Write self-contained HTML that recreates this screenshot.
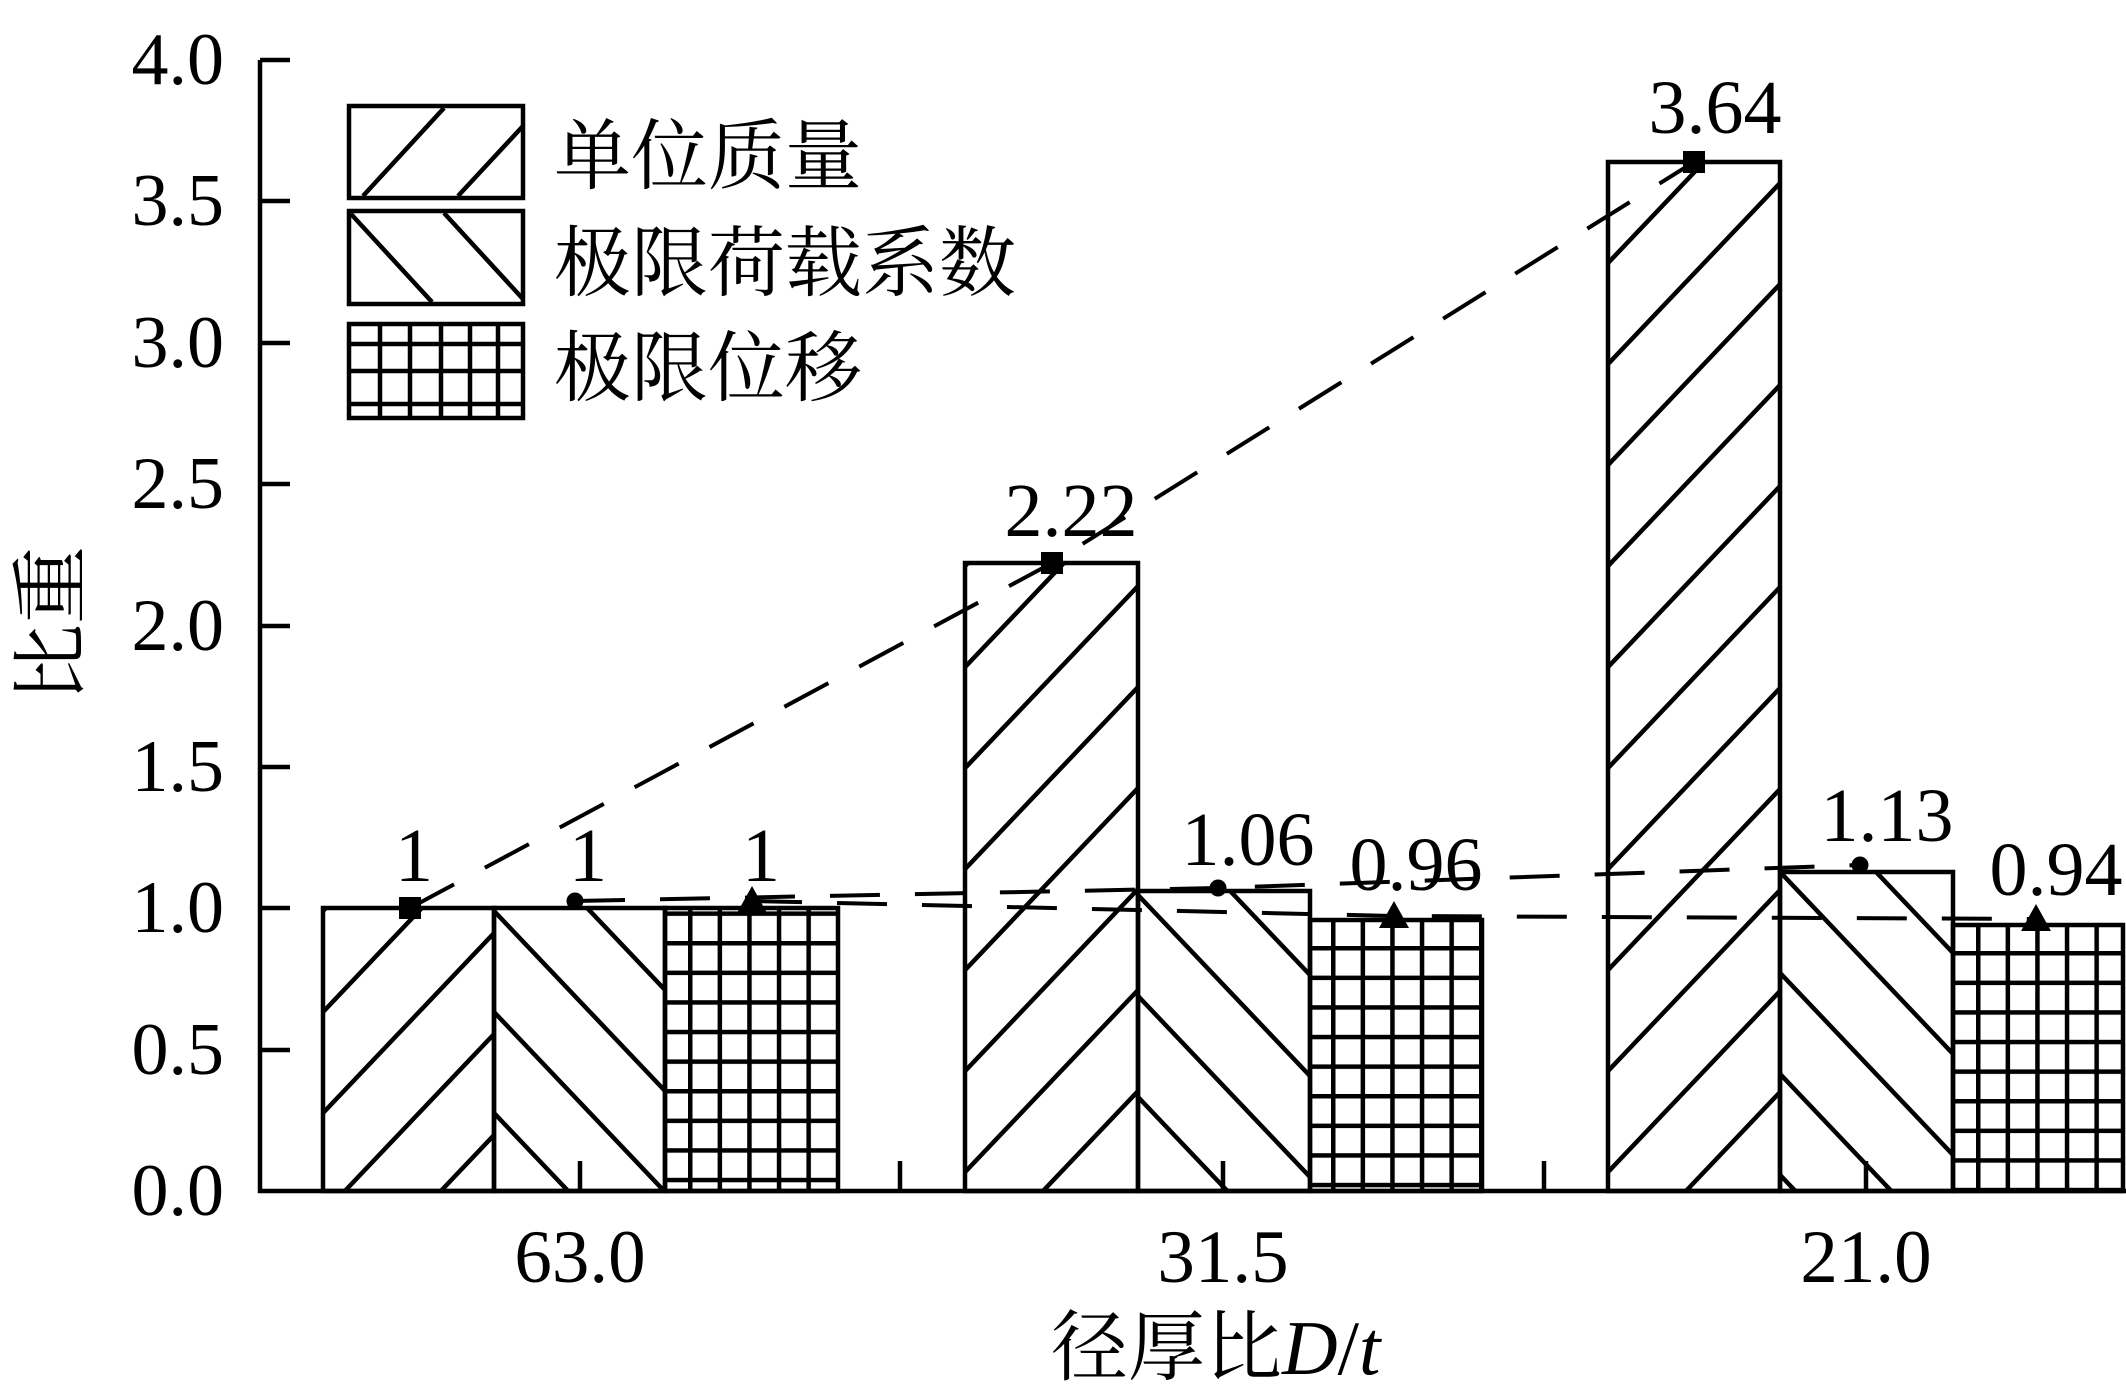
<!DOCTYPE html>
<html><head><meta charset="utf-8"><style>
html,body{margin:0;padding:0;background:#fff;}
svg{display:block;}
text{font-family:"Liberation Serif","Noto Serif CJK SC",serif;fill:#000;}
</style></head><body>
<svg width="2126" height="1399" viewBox="0 0 2126 1399" xmlns="http://www.w3.org/2000/svg">
<defs>
<g id="fs"><path d="M-96,101L96,-101M0,101L96,0M0,202L192,0" stroke="#000" stroke-width="4.5" fill="none"/></g>
<g id="bs"><path d="M0,-101L192,101M0,0L96,101M-96,0L96,202" stroke="#000" stroke-width="4.5" fill="none"/></g>
<g id="gt"><rect x="0" y="0" width="4.5" height="29.6" fill="#000"/><rect x="0" y="0" width="29.6" height="4.5" fill="#000"/></g>
<pattern id="m1" patternUnits="userSpaceOnUse" width="96" height="101" x="323" y="911"><use href="#fs"/></pattern>
<pattern id="m2" patternUnits="userSpaceOnUse" width="96" height="101" x="967" y="564"><use href="#fs"/></pattern>
<pattern id="m3" patternUnits="userSpaceOnUse" width="96" height="101" x="1609" y="666"><use href="#fs"/></pattern>
<pattern id="l1" patternUnits="userSpaceOnUse" width="96" height="101" x="494" y="911"><use href="#bs"/></pattern>
<pattern id="l2" patternUnits="userSpaceOnUse" width="96" height="101" x="1138" y="895"><use href="#bs"/></pattern>
<pattern id="l3" patternUnits="userSpaceOnUse" width="96" height="101" x="1782" y="874"><use href="#bs"/></pattern>
<pattern id="g1" patternUnits="userSpaceOnUse" width="29.6" height="29.6" x="688" y="941"><use href="#gt"/></pattern>
<pattern id="g2" patternUnits="userSpaceOnUse" width="29.6" height="29.6" x="1331" y="946"><use href="#gt"/></pattern>
<pattern id="g3" patternUnits="userSpaceOnUse" width="29.6" height="29.6" x="1976" y="951"><use href="#gt"/></pattern>
</defs>

<g stroke="#000" stroke-width="4.5">
<rect x="323" y="908" width="171" height="283" fill="url(#m1)"/>
<rect x="494" y="908" width="171" height="283" fill="url(#l1)"/>
<rect x="665" y="908" width="173" height="283" fill="url(#g1)"/>
<rect x="965" y="563" width="173" height="628" fill="url(#m2)"/>
<rect x="1138" y="891" width="172" height="300" fill="url(#l2)"/>
<rect x="1310" y="920" width="172" height="271" fill="url(#g2)"/>
<rect x="1608" y="162" width="172" height="1029" fill="url(#m3)"/>
<rect x="1780" y="872" width="173" height="319" fill="url(#l3)"/>
<rect x="1953" y="925" width="170" height="266" fill="url(#g3)"/>
</g>

<g stroke="#000" stroke-width="4.5" fill="none">
<path d="M260,60V1191H2126"/>
<path d="M260,60H290M260,201H290M260,343H290M260,484H290M260,626H290M260,767H290M260,908H290M260,1050H290"/>
<path d="M580,1191V1161M900,1191V1161M1223,1191V1161M1544,1191V1161M1866,1191V1161"/>
</g>

<g stroke="#000" stroke-width="4" fill="none" stroke-dasharray="50 35">
<polyline points="410,908 1052,563 1694,162"/>
<polyline points="575,901 1218,888 1860,865"/>
<polyline points="752,901 1394,916 2036,919"/>
</g>

<g fill="#000">
<rect x="399" y="897" width="22" height="22"/>
<rect x="1041" y="552" width="22" height="22"/>
<rect x="1683" y="151" width="22" height="22"/>
<circle cx="575" cy="901" r="8.5"/>
<circle cx="1218" cy="888" r="8.5"/>
<circle cx="1860" cy="865" r="8.5"/>
<polygon points="752,886 767,913 737,913"/>
<polygon points="1394,901 1409,928 1379,928"/>
<polygon points="2036,904 2051,931 2021,931"/>
</g>

<g font-size="74" text-anchor="end">
<text x="224" y="84">4.0</text>
<text x="224" y="225">3.5</text>
<text x="224" y="367">3.0</text>
<text x="224" y="508">2.5</text>
<text x="224" y="650">2.0</text>
<text x="224" y="791">1.5</text>
<text x="224" y="932">1.0</text>
<text x="224" y="1074">0.5</text>
<text x="224" y="1215">0.0</text>
</g>

<g font-size="75" text-anchor="middle">
<text x="580" y="1282">63.0</text>
<text x="1223" y="1282">31.5</text>
<text x="1866" y="1282">21.0</text>
</g>

<g font-size="76" text-anchor="middle">
<text x="414" y="881">1</text>
<text x="588" y="881">1</text>
<text x="761" y="881">1</text>
<text x="1071" y="536">2.22</text>
<text x="1715" y="133">3.64</text>
<text x="1248" y="865">1.06</text>
<text x="1416" y="890">0.96</text>
<text x="1887" y="841">1.13</text>
<text x="2056" y="895">0.94</text>
</g>

<text x="1051" y="1374" font-size="77">径厚比<tspan font-style="italic">D</tspan>/<tspan font-style="italic">t</tspan></text>
<text transform="translate(78,624) rotate(-90)" font-size="78" text-anchor="middle">比重</text>

<g stroke="#000" stroke-width="4.5" fill="none">
<rect x="349" y="106" width="174" height="92"/>
<path d="M363,196L444,108M458,196L523,126"/>
<rect x="349" y="211" width="174" height="93"/>
<path d="M351,214L432,302M444,213L523,299"/>
<rect x="349" y="324" width="174" height="94"/>
<path d="M380,324V418M410,324V418M441,324V418M470,324V418M498,324V418M349,344H523M349,371H523M349,404H523"/>
</g>
<g font-size="77">
<text x="554" y="183">单位质量</text>
<text x="554" y="290">极限荷载系数</text>
<text x="554" y="395">极限位移</text>
</g>
</svg>
</body></html>
